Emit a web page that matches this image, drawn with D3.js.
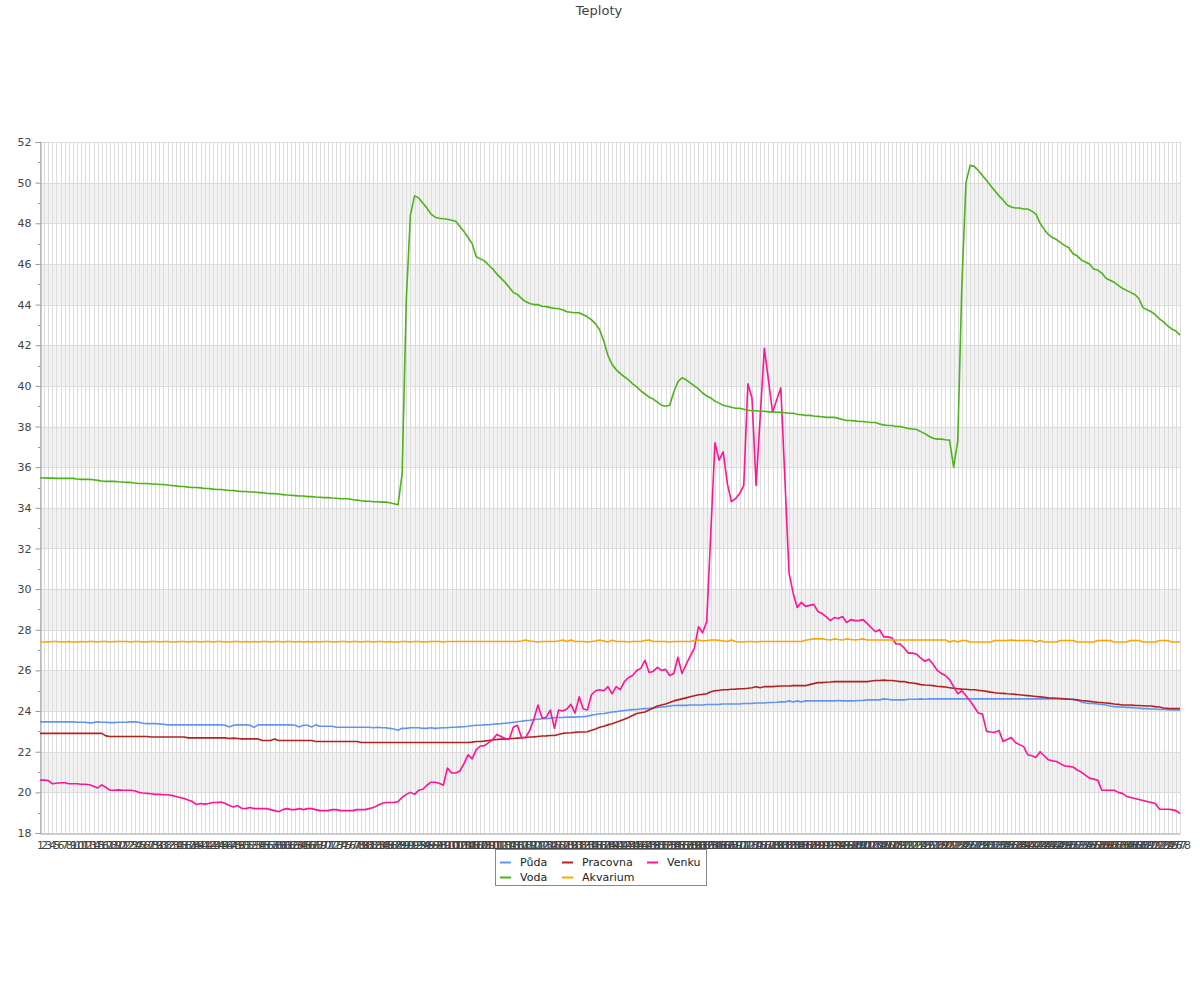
<!DOCTYPE html>
<html><head><meta charset="utf-8">
<script src="https://cdn.jsdelivr.net/npm/d3@7"></script>
<style>
body{margin:0;background:#fff;}
svg{display:block;font-family:"DejaVu Sans",sans-serif;}
</style></head><body>
<svg id="c" width="1200" height="1000"></svg>
<script>
const title = "Teploty";
const seriesNames = ["Půda","Pracovna","Venku","Voda","Akvarium"];
const seriesColors = ["#6495ed","#b22222","#ff1493","#4cb319","#ffa500"];
const yTicks = [18,20,22,24,26,28,30,32,34,36,38,40,42,44,46,48,50,52];

const puda = [
23.47,23.47,23.47,23.47,23.47,23.47,23.47,23.47,23.47,23.45,
23.45,23.45,23.42,23.43,23.47,23.45,23.45,23.43,23.43,23.45,
23.45,23.45,23.47,23.47,23.45,23.4,23.38,23.38,23.38,23.37,
23.35,23.32,23.32,23.32,23.32,23.32,23.32,23.33,23.32,23.32,
23.33,23.32,23.32,23.32,23.32,23.3,23.22,23.3,23.32,23.32,
23.32,23.3,23.2,23.32,23.32,23.32,23.32,23.32,23.32,23.32,
23.32,23.32,23.3,23.22,23.3,23.3,23.22,23.32,23.25,23.25,
23.25,23.25,23.2,23.2,23.2,23.2,23.2,23.2,23.2,23.2,
23.2,23.18,23.2,23.18,23.18,23.15,23.12,23.06,23.15,23.15,
23.18,23.18,23.18,23.15,23.15,23.18,23.15,23.17,23.18,23.18,
23.2,23.2,23.22,23.23,23.25,23.28,23.3,23.3,23.32,23.33,
23.35,23.37,23.38,23.4,23.42,23.45,23.47,23.5,23.53,23.55,
23.58,23.6,23.62,23.63,23.65,23.67,23.68,23.68,23.7,23.7,
23.7,23.72,23.72,23.75,23.8,23.83,23.87,23.88,23.92,23.95,
23.97,24.0,24.03,24.05,24.07,24.08,24.1,24.12,24.13,24.15,
24.18,24.2,24.22,24.25,24.27,24.28,24.28,24.28,24.3,24.3,
24.3,24.3,24.32,24.32,24.32,24.33,24.35,24.35,24.35,24.35,
24.35,24.37,24.37,24.38,24.4,24.4,24.4,24.42,24.42,24.43,
24.45,24.45,24.5,24.45,24.5,24.45,24.5,24.5,24.5,24.5,
24.5,24.5,24.5,24.5,24.52,24.5,24.5,24.5,24.5,24.52,
24.52,24.55,24.55,24.55,24.55,24.6,24.58,24.55,24.55,24.55,
24.55,24.58,24.58,24.58,24.6,24.58,24.6,24.6,24.6,24.6,
24.6,24.6,24.6,24.6,24.6,24.6,24.6,24.6,24.6,24.6,
24.6,24.6,24.6,24.6,24.6,24.6,24.6,24.6,24.6,24.6,
24.6,24.6,24.6,24.6,24.6,24.6,24.6,24.6,24.6,24.6,
24.6,24.58,24.55,24.45,24.4,24.38,24.37,24.35,24.33,24.3,
24.25,24.22,24.2,24.2,24.18,24.18,24.15,24.15,24.12,24.12,
24.1,24.1,24.08,24.08,24.07,24.05,24.05,24.05];

const pracovna = [
22.9,22.9,22.9,22.9,22.9,22.9,22.9,22.9,22.9,22.9,
22.9,22.9,22.9,22.9,22.9,22.9,22.78,22.75,22.75,22.75,
22.75,22.75,22.75,22.75,22.75,22.75,22.75,22.72,22.72,22.72,
22.72,22.72,22.72,22.72,22.72,22.72,22.68,22.68,22.68,22.68,
22.68,22.68,22.68,22.68,22.68,22.68,22.65,22.67,22.65,22.63,
22.63,22.63,22.63,22.63,22.55,22.55,22.55,22.62,22.55,22.55,
22.55,22.55,22.55,22.55,22.55,22.55,22.55,22.5,22.5,22.5,
22.5,22.5,22.5,22.5,22.5,22.5,22.5,22.5,22.45,22.45,
22.45,22.45,22.45,22.45,22.45,22.45,22.45,22.45,22.45,22.45,
22.45,22.45,22.45,22.45,22.45,22.45,22.45,22.45,22.45,22.45,
22.45,22.45,22.45,22.45,22.45,22.47,22.5,22.5,22.52,22.55,
22.58,22.6,22.62,22.62,22.65,22.65,22.67,22.68,22.7,22.72,
22.73,22.75,22.77,22.78,22.8,22.8,22.85,22.9,22.92,22.93,
22.95,22.97,22.97,22.98,23.05,23.12,23.2,23.25,23.32,23.38,
23.45,23.52,23.6,23.68,23.78,23.88,23.92,23.95,24.05,24.15,
24.25,24.3,24.35,24.42,24.5,24.55,24.6,24.65,24.7,24.75,
24.8,24.82,24.85,24.95,25.0,25.02,25.05,25.05,25.07,25.08,
25.1,25.1,25.12,25.15,25.2,25.15,25.2,25.2,25.2,25.22,
25.23,25.23,25.23,25.25,25.25,25.25,25.25,25.3,25.35,25.4,
25.4,25.42,25.43,25.45,25.45,25.45,25.45,25.45,25.45,25.45,
25.45,25.45,25.48,25.5,25.5,25.52,25.5,25.5,25.48,25.45,
25.45,25.4,25.38,25.35,25.3,25.28,25.27,25.25,25.22,25.2,
25.18,25.15,25.12,25.1,25.08,25.07,25.05,25.05,25.02,25.0,
24.97,24.93,24.9,24.88,24.87,24.85,24.84,24.82,24.8,24.78,
24.76,24.74,24.72,24.7,24.68,24.65,24.64,24.63,24.62,24.6,
24.58,24.57,24.55,24.52,24.5,24.48,24.45,24.43,24.42,24.4,
24.38,24.35,24.33,24.3,24.3,24.3,24.28,24.27,24.26,24.25,
24.25,24.22,24.2,24.15,24.13,24.12,24.12,24.12];

const venku = [
20.6,20.6,20.58,20.42,20.45,20.47,20.47,20.42,20.42,20.42,
20.4,20.4,20.37,20.3,20.22,20.37,20.25,20.1,20.1,20.12,
20.1,20.1,20.1,20.08,20.0,19.97,19.95,19.93,19.9,19.9,
19.88,19.88,19.85,19.8,19.75,19.7,19.62,19.55,19.4,19.45,
19.42,19.45,19.5,19.5,19.52,19.45,19.35,19.28,19.35,19.22,
19.2,19.25,19.2,19.2,19.2,19.2,19.15,19.1,19.05,19.15,
19.2,19.15,19.15,19.2,19.15,19.2,19.2,19.15,19.1,19.1,
19.1,19.15,19.15,19.1,19.1,19.1,19.1,19.15,19.15,19.15,
19.2,19.25,19.35,19.45,19.5,19.5,19.5,19.55,19.75,19.9,
20.0,19.9,20.1,20.15,20.35,20.5,20.5,20.45,20.35,21.2,
20.95,20.95,21.05,21.4,21.85,21.65,22.1,22.28,22.3,22.45,
22.6,22.85,22.75,22.65,22.6,23.2,23.3,22.7,22.7,23.05,
23.6,24.3,23.65,23.7,24.05,23.15,24.05,24.0,24.1,24.33,
23.9,24.7,24.1,24.05,24.8,25.0,25.05,25.0,25.2,24.85,
25.2,25.05,25.45,25.65,25.75,26.0,26.1,26.5,25.9,25.95,
26.15,26.0,26.05,25.75,25.85,26.65,25.85,26.3,26.7,27.1,
28.15,27.85,28.4,32.8,37.2,36.35,36.75,35.2,34.3,34.45,
34.7,35.1,40.1,39.4,35.1,38.5,41.85,40.3,38.7,39.3,
39.9,35.4,30.8,29.8,29.1,29.35,29.15,29.2,29.25,28.9,
28.8,28.65,28.45,28.6,28.55,28.65,28.35,28.5,28.45,28.45,
28.5,28.3,28.1,27.9,28.0,27.65,27.65,27.6,27.3,27.3,
27.1,26.85,26.85,26.8,26.6,26.45,26.55,26.3,26.0,25.85,
25.75,25.55,25.2,24.85,25.0,24.75,24.5,24.2,23.9,23.85,
23.0,22.97,22.95,23.05,22.5,22.6,22.7,22.45,22.35,22.25,
21.85,21.8,21.72,22.0,21.8,21.6,21.55,21.52,21.4,21.3,
21.28,21.25,21.1,21.0,20.85,20.7,20.65,20.6,20.1,20.1,
20.1,20.1,20.0,19.95,19.8,19.75,19.7,19.65,19.6,19.55,
19.5,19.45,19.17,19.17,19.17,19.15,19.1,18.95];

const voda = [
35.48,35.47,35.46,35.46,35.45,35.45,35.45,35.45,35.45,35.42,
35.4,35.4,35.4,35.38,35.35,35.32,35.3,35.3,35.3,35.28,
35.27,35.25,35.25,35.22,35.2,35.2,35.2,35.18,35.17,35.15,
35.15,35.12,35.1,35.08,35.05,35.05,35.02,35.0,35.0,34.98,
34.95,34.95,34.92,34.9,34.9,34.88,34.85,34.85,34.82,34.8,
34.8,34.78,34.78,34.75,34.75,34.72,34.7,34.7,34.68,34.65,
34.63,34.62,34.6,34.58,34.58,34.55,34.55,34.53,34.52,34.5,
34.5,34.48,34.47,34.45,34.45,34.45,34.4,34.38,34.35,34.33,
34.32,34.3,34.3,34.28,34.28,34.25,34.2,34.15,35.7,44.2,
48.4,49.35,49.25,49.0,48.75,48.45,48.3,48.25,48.22,48.2,
48.15,48.1,47.85,47.6,47.3,47.0,46.35,46.25,46.15,45.95,
45.75,45.5,45.3,45.1,44.85,44.6,44.5,44.3,44.15,44.05,
44.0,44.0,43.92,43.9,43.85,43.82,43.8,43.75,43.65,43.62,
43.6,43.6,43.5,43.4,43.25,43.05,42.75,42.2,41.5,41.05,
40.8,40.6,40.45,40.3,40.1,39.95,39.75,39.6,39.45,39.35,
39.2,39.05,39.0,39.05,39.7,40.2,40.4,40.3,40.15,40.0,
39.85,39.65,39.5,39.4,39.25,39.15,39.05,39.0,38.95,38.9,
38.9,38.85,38.8,38.78,38.78,38.75,38.75,38.72,38.72,38.7,
38.7,38.68,38.65,38.65,38.6,38.58,38.55,38.55,38.52,38.5,
38.48,38.45,38.45,38.45,38.4,38.35,38.3,38.3,38.28,38.25,
38.25,38.22,38.2,38.2,38.12,38.08,38.05,38.05,38.0,38.0,
37.95,37.9,37.88,37.85,37.75,37.65,37.52,37.42,37.38,37.38,
37.35,37.33,36.0,37.3,45.0,50.0,50.85,50.8,50.6,50.35,
50.1,49.85,49.6,49.35,49.15,48.9,48.8,48.75,48.75,48.7,
48.7,48.6,48.45,48.0,47.7,47.45,47.3,47.2,47.05,46.9,
46.8,46.5,46.4,46.2,46.1,46.0,45.75,45.7,45.55,45.3,
45.2,45.1,44.95,44.8,44.7,44.6,44.5,44.3,43.85,43.75,
43.65,43.5,43.3,43.15,42.95,42.8,42.7,42.5];

const akvarium = [
27.4,27.4,27.4,27.42,27.42,27.4,27.4,27.42,27.4,27.4,
27.42,27.4,27.42,27.42,27.4,27.42,27.42,27.4,27.42,27.42,
27.42,27.42,27.4,27.42,27.42,27.4,27.4,27.42,27.42,27.4,
27.42,27.42,27.4,27.4,27.42,27.42,27.4,27.42,27.42,27.4,
27.42,27.42,27.4,27.42,27.42,27.4,27.4,27.42,27.42,27.4,
27.42,27.4,27.42,27.4,27.42,27.42,27.4,27.42,27.42,27.4,
27.42,27.42,27.4,27.42,27.4,27.42,27.4,27.42,27.4,27.42,
27.42,27.4,27.4,27.42,27.42,27.4,27.42,27.42,27.4,27.42,
27.42,27.4,27.42,27.42,27.4,27.42,27.4,27.4,27.42,27.42,
27.4,27.42,27.42,27.4,27.4,27.42,27.42,27.42,27.4,27.42,
27.42,27.42,27.42,27.42,27.42,27.42,27.42,27.42,27.42,27.42,
27.42,27.42,27.42,27.42,27.42,27.42,27.42,27.45,27.5,27.45,
27.42,27.4,27.42,27.42,27.42,27.42,27.45,27.5,27.42,27.5,
27.42,27.42,27.42,27.4,27.42,27.45,27.5,27.45,27.4,27.48,
27.42,27.42,27.42,27.4,27.42,27.42,27.42,27.47,27.5,27.42,
27.42,27.42,27.42,27.4,27.42,27.42,27.42,27.42,27.42,27.47,
27.5,27.45,27.47,27.5,27.5,27.48,27.45,27.42,27.5,27.42,
27.4,27.4,27.42,27.42,27.4,27.42,27.42,27.42,27.42,27.42,
27.42,27.42,27.42,27.42,27.42,27.42,27.48,27.52,27.55,27.55,
27.55,27.52,27.5,27.55,27.52,27.5,27.55,27.52,27.5,27.52,
27.55,27.5,27.5,27.5,27.5,27.5,27.5,27.5,27.5,27.5,
27.5,27.5,27.5,27.5,27.5,27.5,27.5,27.5,27.5,27.5,
27.5,27.4,27.47,27.4,27.47,27.47,27.4,27.4,27.4,27.4,
27.4,27.4,27.47,27.47,27.47,27.47,27.5,27.47,27.47,27.47,
27.47,27.47,27.4,27.47,27.4,27.4,27.4,27.4,27.47,27.47,
27.47,27.47,27.4,27.4,27.4,27.4,27.4,27.47,27.47,27.47,
27.47,27.4,27.4,27.4,27.4,27.47,27.47,27.47,27.4,27.4,
27.4,27.4,27.47,27.47,27.47,27.4,27.4,27.4];

const categories = d3.range(1, puda.length + 1).map(String);
const seriesData = [puda, pracovna, venku, voda, akvarium];

(function draw() {
  const svg = d3.select("#c");
  const pL = 40, pR = 1180, pT = 142, pB = 833;
  const x = d3.scalePoint().domain(categories).range([pL, pR]);
  const y = d3.scaleLinear().domain([18, 52]).range([pB, pT]);

  svg.append("text").attr("x", 599).attr("y", 15).attr("text-anchor", "middle")
    .attr("font-size", 13).attr("fill", "#444").text(title);

  const bands = yTicks.filter(v => v < 52 && ((v - 20) % 4 === 0));
  svg.append("g").selectAll("rect").data(bands).join("rect")
    .attr("x", pL).attr("width", pR - pL)
    .attr("y", d => y(d + 2)).attr("height", d => y(d) - y(d + 2))
    .attr("fill", "#f2f2f2");

  svg.append("g").selectAll("line").data(categories).join("line")
    .attr("x1", d => Math.round(x(d)) + 0.5).attr("x2", d => Math.round(x(d)) + 0.5)
    .attr("y1", pT).attr("y2", pB)
    .attr("stroke", "#dcdcdc").attr("stroke-width", 1);

  svg.append("g").selectAll("line").data(yTicks.filter(v => v > 18)).join("line")
    .attr("x1", pL).attr("x2", pR)
    .attr("y1", d => Math.round(y(d)) + 0.5).attr("y2", d => Math.round(y(d)) + 0.5)
    .attr("stroke", "#dcdcdc").attr("stroke-width", 1);

  const yAxis = svg.append("g").attr("transform", `translate(${pL + 0.5},0)`)
    .call(d3.axisLeft(y).tickValues(yTicks).tickSize(5).tickPadding(4).tickFormat(d3.format("d")));
  yAxis.selectAll("text").attr("font-size", 11).attr("fill", "#444").attr("font-family", "DejaVu Sans");
  yAxis.selectAll("line").attr("stroke", "#999");
  yAxis.select(".domain").attr("stroke", "#999");
  const minor = d3.range(19, 52, 2);
  svg.append("g").selectAll("line").data(minor).join("line")
    .attr("x1", pL - 2).attr("x2", pL)
    .attr("y1", d => Math.round(y(d)) + 0.5).attr("y2", d => Math.round(y(d)) + 0.5)
    .attr("stroke", "#999");

  const xAxis = svg.append("g").attr("transform", `translate(0,${pB + 0.5})`)
    .call(d3.axisBottom(x).tickSize(0).tickPadding(8));
  xAxis.selectAll("text").attr("font-size", 11).attr("fill", "#444").attr("font-family", "DejaVu Sans");
  xAxis.select(".domain").attr("stroke", "#999");

  const line = d3.line().x((d, i) => x(categories[i])).y(d => y(d));
  svg.append("g").selectAll("path").data(seriesData).join("path")
    .attr("d", d => line(d)).attr("fill", "none")
    .attr("stroke", (d, i) => seriesColors[i]).attr("stroke-width", 1.6)
    .attr("stroke-linejoin", "round");

  const lg = svg.append("g");
  lg.append("rect").attr("x", 495.5).attr("y", 849.5).attr("width", 211).attr("height", 36)
    .attr("fill", "#fff").attr("stroke", "#888");
  const colX = [500, 562, 647];
  seriesNames.forEach((n, i) => {
    const cx = colX[i % 3], cy = i < 3 ? 862 : 877;
    lg.append("line").attr("x1", cx).attr("x2", cx + 11).attr("y1", cy + 0.5).attr("y2", cy + 0.5)
      .attr("stroke", seriesColors[i]).attr("stroke-width", 2);
    lg.append("text").attr("x", cx + 20).attr("y", cy + 4)
      .attr("font-size", 11).attr("fill", "#222").text(n);
  });
})();
</script></body></html>
